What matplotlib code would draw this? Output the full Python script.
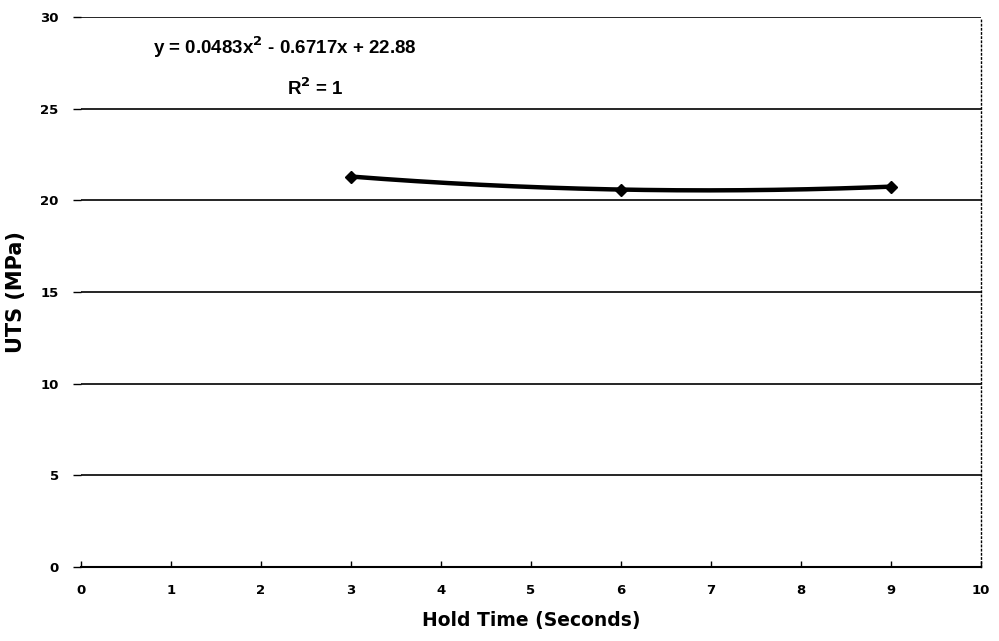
import numpy as np
import matplotlib
matplotlib.use("Agg")
import matplotlib.pyplot as plt

hold_time = [3, 6, 9]
uts = [21.30, 20.59, 20.75]
x_ticks = list(range(0, 11))
y_ticks = list(range(0, 31, 5))
eq_text = "y = 0.0483x$^2$ - 0.6717x + 22.88"
r2_text = "R$^2$ = 1"

plt.rcParams['font.family'] = ['Liberation Sans', 'DejaVu Sans']
plt.rcParams['font.weight'] = 'bold'
plt.rcParams['mathtext.default'] = 'bf'

fig = plt.figure(figsize=(9.99, 6.41), dpi=100)
ax = fig.add_axes([0.081, 0.1154, 0.901, 0.858])

# smooth curve through the points (quadratic fit of the data)
coef = np.polyfit(hold_time, uts, 2)
xs = np.linspace(min(hold_time), max(hold_time), 200)
ax.plot(xs, np.polyval(coef, xs), color='black', lw=3.2, zorder=3, solid_capstyle='round')
ax.plot(hold_time, uts, linestyle='none', marker='D', ms=6, color='black', zorder=4)

ax.set_xlim(0, 10)
ax.set_ylim(0, 30)
ax.set_xticks(x_ticks)
ax.set_yticks(y_ticks)
ax.yaxis.grid(True, color='black', lw=1.2)
ax.set_axisbelow(True)

for s in ['top', 'left']:
    ax.spines[s].set_visible(False)
ax.spines['bottom'].set_linewidth(1.5)
ax.spines['right'].set_linestyle((0, (1, 2)))
ax.spines['right'].set_linewidth(1.0)

tick_font = {'family': 'DejaVu Sans', 'weight': 'bold', 'size': 9.5}
ax.tick_params(axis='y', length=6, width=1, pad=10)
ax.tick_params(axis='x', length=4, width=1, pad=12, direction='in')
ax.set_xticklabels([str(v) for v in x_ticks], fontdict=tick_font)
ax.set_yticklabels([str(v) for v in y_ticks], fontdict=tick_font)

ax.set_xlabel("Hold Time (Seconds)", fontsize=13.5, fontweight='bold', family='DejaVu Sans', labelpad=10)
ax.set_ylabel("UTS (MPa)", fontsize=15, fontweight='bold', family='DejaVu Sans', labelpad=10)

ax.text(2.27, 28.35, eq_text, ha='center', va='center', fontsize=13.5, fontweight='bold')
ax.text(2.6, 26.1, r2_text, ha='center', va='center', fontsize=13.5, fontweight='bold')

fig.savefig("out.png", dpi=100)
